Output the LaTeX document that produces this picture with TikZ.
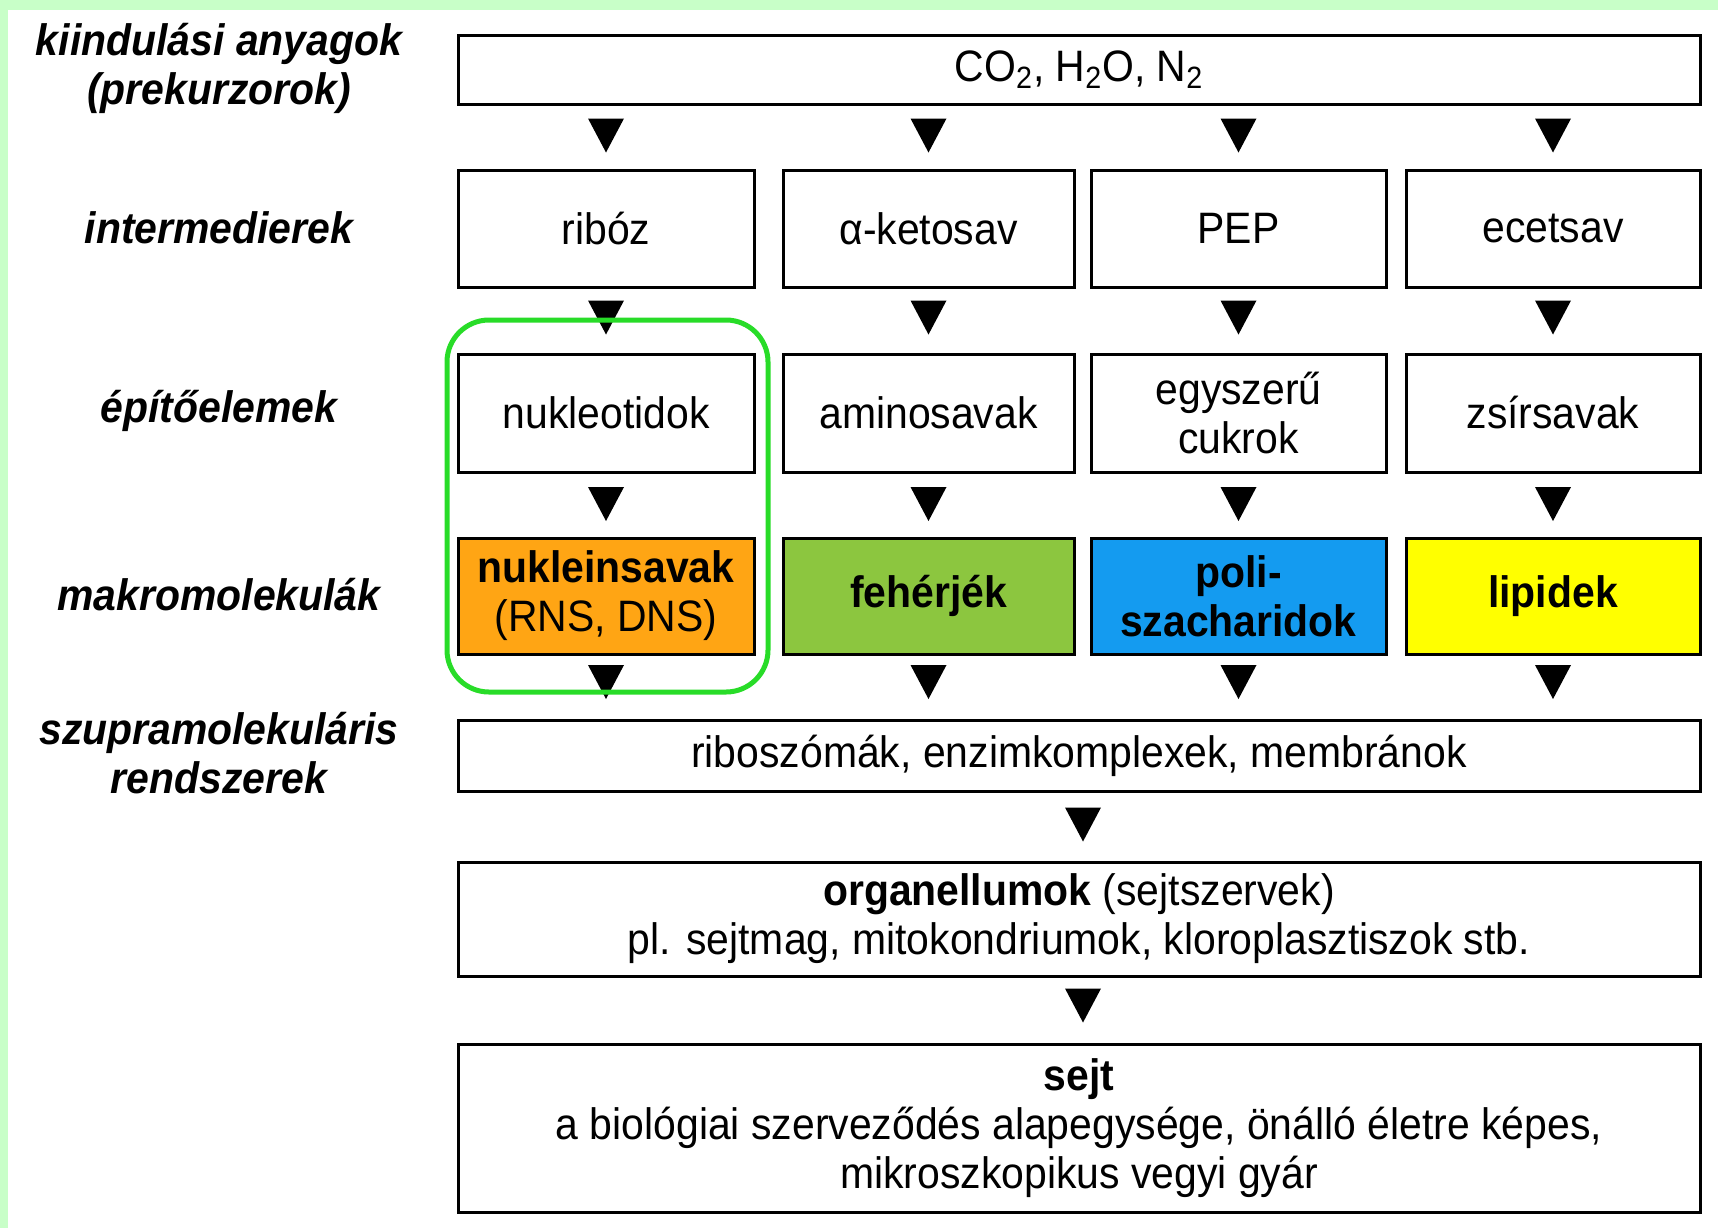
\documentclass[tikz,border=0pt]{standalone}
\usepackage{fontspec}
\setmainfont{Liberation Sans}[FakeStretch=0.93]
\newcommand\fsz{\fontsize{22}{24.5}\selectfont}
\definecolor{mint}{RGB}{200,255,200}
\definecolor{frame}{RGB}{40,220,40}
\definecolor{nucl}{RGB}{255,165,20}
\definecolor{prot}{RGB}{140,198,63}
\definecolor{poly}{RGB}{20,155,240}
\definecolor{lipid}{RGB}{255,255,0}
\begin{document}
\begin{tikzpicture}[x=0.5pt,y=-0.5pt,
  box/.style={draw=black, line width=1.5pt, inner sep=0pt, align=center, font=\fsz},
  lab/.style={align=center, font=\fsz\bfseries\itshape},
  wide/.style={minimum width=621pt},
  ca/.style={minimum width=148pt},
  cb/.style={minimum width=145.5pt},
  cc/.style={minimum width=147.5pt},
  cd/.style={minimum width=147pt},
  dtri/.pic={\fill (-18,-17) -- (18,-17) -- (0,17) -- cycle;}]
\useasboundingbox (0,0) rectangle (1718,1228);
\fill[white] (0,0) rectangle (1718,1228);
\fill[mint] (0,0) rectangle (1718,10);
\fill[mint] (0,0) rectangle (8,1228);

% left labels
\node[lab] (l1) at (219,68.5) {kiindulási anyagok\\(prekurzorok)};
\node[lab] (l2) at (219,228) {intermedierek};
\node[lab] (l3) at (219,411) {építőelemek};
\node[lab] (l4) at (219,595) {makromolekulák};
\node[lab] (l5) at (219,753.5) {szupramolekuláris\\rendszerek};

% boxes
\node[box, wide, minimum height=34.5pt] (prec) at (1079,69.5) {CO\textsubscript{2}, H\textsubscript{2}O, N\textsubscript{2}};

\node[box, ca, minimum height=58.5pt] (ia) at (606,228.5) {ribóz};
\node[box, cb, minimum height=58.5pt] (ib) at (928.5,228.5) {α-ketosav};
\node[box, cc, minimum height=58.5pt] (ic) at (1238.5,228.5) {PEP};
\node[box, cd, minimum height=58.5pt] (id) at (1553,228.5) {ecetsav};

\node[box, ca, minimum height=59pt] (ea) at (606,413) {nukleotidok};
\node[box, cb, minimum height=59pt] (eb) at (928.5,413) {aminosavak};
\node[box, cc, minimum height=59pt] (ec) at (1238.5,413) {egyszerű\\cukrok};
\node[box, cd, minimum height=59pt] (ed) at (1553,413) {zsírsavak};

\node[box, ca, minimum height=58pt, fill=nucl] (ma) at (606,596) {\textbf{nukleinsavak}\\(RNS, DNS)};
\node[box, cb, minimum height=58pt, fill=prot] (mb) at (928.5,596) {\textbf{fehérjék}};
\node[box, cc, minimum height=58pt, fill=poly] (mc) at (1238.5,596) {\textbf{poli-}\\\textbf{szacharidok}};
\node[box, cd, minimum height=58pt, fill=lipid] (md) at (1553,596) {\textbf{lipidek}};

\node[box, wide, minimum height=35.5pt] (supra) at (1079,755.5) {riboszómák, enzimkomplexek, membránok};
\node[box, wide, minimum height=57pt] (org) at (1079,919) {\textbf{organellumok} (sejtszervek)\\pl. sejtmag, mitokondriumok, kloroplasztiszok stb.};
\node[box, wide, minimum height=84pt] (cell) at (1079,1128) {\textbf{sejt}\\a biológiai szerveződés alapegysége, önálló életre képes,\\mikroszkopikus vegyi gyár};

% triangles
\foreach \cx in {606,928.5,1238.5,1553}{
  \pic at (\cx,135.5) {dtri};
  \pic at (\cx,317.5) {dtri};
  \pic at (\cx,504) {dtri};
  \pic at (\cx,682) {dtri};
}
\pic at (1083,824.5) {dtri};
\pic at (1083,1005.5) {dtri};

% green highlight frame
\draw[frame, line width=2.5pt, rounded corners=21pt] (447,320) rectangle (768,692);
\end{tikzpicture}
\end{document}
